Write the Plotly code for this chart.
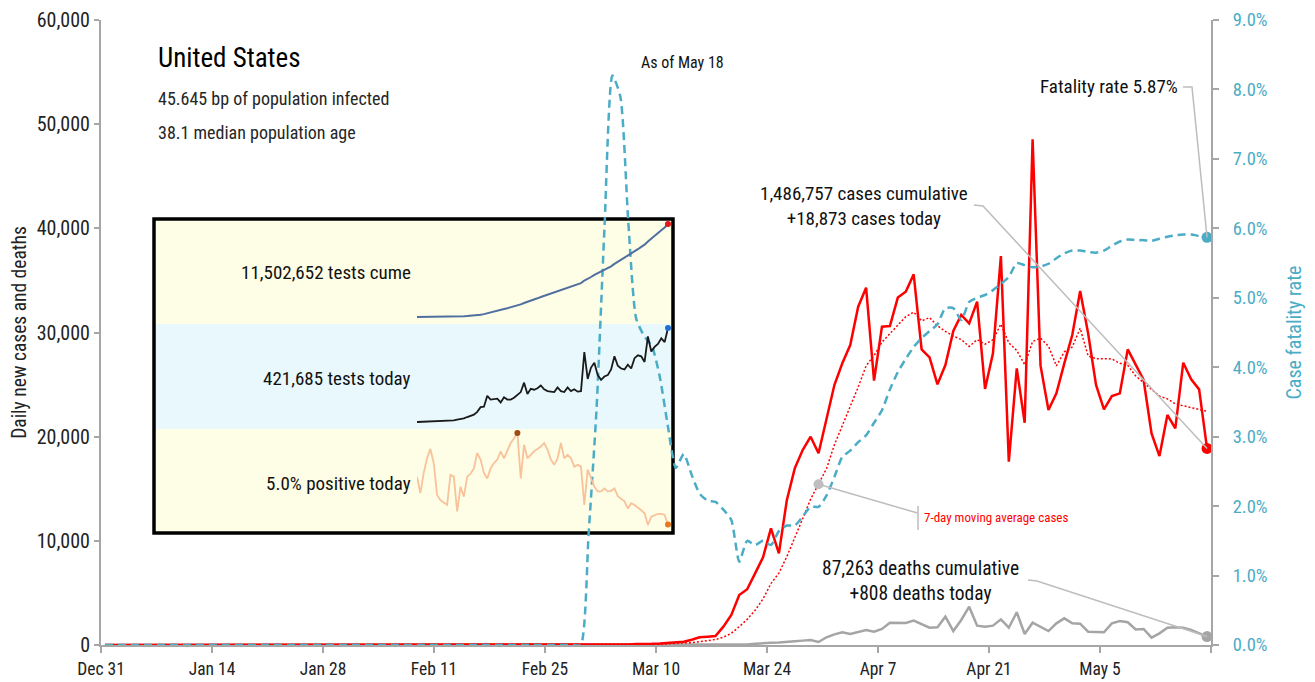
import pandas as pd
import plotly.graph_objects as go

# ---------------- data ----------------
start_date = "2019-12-31"
end_date = "2020-05-18"

new_cases = [
    0, 0, 0, 0, 0, 0, 0, 0, 0, 0,
    0, 0, 0, 0, 0, 0, 0, 0, 0, 0,
    0, 1, 0, 0, 1, 0, 3, 0, 0, 0,
    1, 1, 1, 3, 0, 1, 0, 0, 0, 0,
    0, 1, 0, 0, 0, 0, 0, 1, 0, 0,
    0, 0, 0, 0, 1, 6, 1, 3, 2, 5,
    8, 15, 25, 30, 45, 60, 55, 90, 80, 110,
    150, 200, 260, 320, 500, 740, 800, 860, 1760, 2880,
    4800, 5350, 6880, 8420, 11200, 8800, 13900, 16960, 18720, 20000,
    18400, 21600, 24960, 27040, 28800, 32480, 34300, 25380, 30560, 30620,
    33350, 33920, 35580, 28380, 27620, 25020, 26880, 30140, 31680, 30880,
    32960, 24580, 28000, 37340, 17600, 26560, 21340, 48540, 26820, 22560,
    24160, 27040, 29760, 33980, 29920, 24960, 22620, 23900, 24160, 28380,
    26880, 25440, 20320, 18140, 22080, 20800, 27100, 25500, 24540, 18873,
]

new_deaths = [
    0, 0, 0, 0, 0, 0, 0, 0, 0, 0,
    0, 0, 0, 0, 0, 0, 0, 0, 0, 0,
    0, 0, 0, 0, 0, 0, 0, 0, 0, 0,
    0, 0, 0, 0, 0, 0, 0, 0, 0, 0,
    0, 0, 0, 0, 0, 0, 0, 0, 0, 0,
    0, 0, 0, 0, 0, 0, 0, 0, 0, 0,
    1, 1, 4, 1, 2, 2, 3, 3, 4, 4,
    6, 8, 8, 10, 12, 15, 20, 25, 30, 40,
    50, 60, 110, 130, 220, 240, 270, 350, 420, 480,
    290, 740, 1020, 1220, 1060, 1220, 1440, 1280, 1540, 2140,
    2140, 2110, 2340, 2020, 1660, 1700, 2720, 1340, 2400, 3680,
    1860, 1760, 1860, 2460, 1660, 3140, 1060, 2140, 1760, 1340,
    2080, 2560, 2080, 2050, 1280, 1220, 1220, 2080, 2300, 2180,
    1500, 1540, 700, 1120, 1660, 1700, 1660, 1440, 1150, 808,
]

cfr_pct = [
    0, 0, 0, 0, 0, 0, 0, 0, 0, 0,
    0, 0, 0, 0, 0, 0, 0, 0, 0, 0,
    0, 0, 0, 0, 0, 0, 0, 0, 0, 0,
    0, 0, 0, 0, 0, 0, 0, 0, 0, 0,
    0, 0, 0, 0, 0, 0, 0, 0, 0, 0,
    0, 0, 0, 0, 0, 0, 0, 0, 0, 0,
    0.0, 1.6, 3.4, 6.0, 8.2, 7.9, 6.1, 4.7, 4.45, 4.3,
    3.85, 3.15, 2.55, 2.75, 2.45, 2.18, 2.08, 2.06, 1.95, 1.8,
    1.2, 1.5, 1.44, 1.5, 1.44, 1.64, 1.72, 1.72, 1.85, 1.99,
    1.99, 2.15, 2.42, 2.71, 2.80, 2.92, 3.02, 3.2, 3.38, 3.68,
    3.93, 4.12, 4.29, 4.42, 4.52, 4.62, 4.85, 4.85, 4.68, 4.94,
    5.0, 5.04, 5.11, 5.2, 5.3, 5.5, 5.47, 5.44, 5.45, 5.49,
    5.57, 5.64, 5.68, 5.68, 5.66, 5.65, 5.68, 5.75, 5.81, 5.84,
    5.83, 5.83, 5.82, 5.85, 5.88, 5.9, 5.91, 5.91, 5.89, 5.87,
]

tests_start = "2020-03-04"
tests_today_k = [
    1.0, 1.5, 1.8, 2.2, 2.6, 3.0, 3.5, 4.2, 5.1, 5.9,
    7.6, 8.4, 11.8, 12.7, 16.9, 23.2, 27.4, 33.7, 46.4, 67.5,
    69.6, 118.1, 101.2, 103.3, 105.4, 88.6, 111.7, 101.2, 101.2, 109.6,
    122.3, 134.9, 177.1, 126.5, 149.7, 145.5, 151.8, 164.5, 147.6, 139.2,
    137.0, 134.9, 156.0, 139.2, 134.9, 156.0, 139.2, 147.6, 137.0, 139.2,
    314.2, 194.0, 244.6, 265.7, 210.8, 189.8, 204.5, 210.8, 236.1, 295.2,
    253.0, 240.4, 236.1, 257.2, 240.4, 286.7, 299.4, 295.2, 269.9, 383.7,
    316.3, 337.3, 350.0, 375.3, 358.4, 421.685,
]

positive_pct = [
    13.1, 10.3, 13.7, 16.2, 17.8, 15.4, 10.0, 9.1, 8.7, 8.3,
    13.4, 13.1, 7.2, 11.4, 9.7, 13.1, 13.6, 14.5, 17.1, 16.0,
    13.7, 12.8, 14.5, 15.4, 16.0, 17.4, 16.2, 17.4, 18.8, 19.6,
    20.5, 12.8, 18.5, 16.2, 16.8, 17.4, 17.8, 18.2, 18.8, 17.7,
    16.0, 15.1, 16.2, 18.8, 16.2, 16.8, 16.2, 14.8, 15.1, 14.8,
    8.3, 14.3, 12.8, 11.4, 10.6, 10.6, 11.1, 10.6, 10.7, 11.1,
    9.8, 9.4, 8.9, 7.7, 8.6, 8.3, 7.9, 7.4, 6.9, 4.9,
    6.3, 6.6, 6.8, 6.8, 6.6, 5.0,
]

x_tick_dates = ["2019-12-31", "2020-01-14", "2020-01-28", "2020-02-11", "2020-02-25",
                "2020-03-10", "2020-03-24", "2020-04-07", "2020-04-21", "2020-05-05", "2020-05-19"]
x_tick_text = ["Dec 31", "Jan 14", "Jan 28", "Feb 11", "Feb 25",
               "Mar 10", "Mar 24", "Apr 7", "Apr 21", "May 5", ""]

# ---------------- derived ----------------
dates = pd.date_range(start_date, end_date, freq="D")
xs = dates + pd.Timedelta(hours=12)          # points sit mid-day (between tick marks)
cases_s = pd.Series(new_cases, index=xs)
ma7 = cases_s.rolling(7, min_periods=1).mean()
cfr = [v / 100 for v in cfr_pct]

tdates = pd.date_range(tests_start, end_date, freq="D")
tests_today = [v * 1000 for v in tests_today_k]
tests_cume = list(pd.Series(tests_today).cumsum())

# ---------------- geometry helpers ----------------
L, R, T, B = 101, 1211, 20, 645
W, H = R - L, B - T
X0, X1 = pd.Timestamp("2019-12-31"), pd.Timestamp("2020-05-19")
Y_MAX = 60000
Y2_MAX = 0.09


def pxx(p):
    return (p - L) / W


def pxy(p):
    return (B - p) / H


def dx(t):
    return (pd.Timestamp(t) - X0) / (X1 - X0)


FONT = "Roboto Condensed, Liberation Sans Narrow, Roboto, Liberation Sans, sans-serif"
GRAY_AX = "#A6A6A6"
BLUE = "#4BACC6"
RED = "#FF0000"
DGRAY = "#A5A5A5"

fig = go.Figure()

# main traces
fig.add_trace(go.Scatter(x=xs, y=new_deaths, mode="lines",
                         line=dict(color=DGRAY, width=2.5), hoverinfo="skip"))
fig.add_trace(go.Scatter(x=xs, y=new_cases, mode="lines",
                         line=dict(color=RED, width=2.5), hoverinfo="skip"))
fig.add_trace(go.Scatter(x=xs, y=ma7, mode="lines",
                         line=dict(color=RED, width=1.5, dash="2px,2px"), hoverinfo="skip"))
fig.add_trace(go.Scatter(x=xs, y=cfr, mode="lines", yaxis="y2",
                         line=dict(color=BLUE, width=2.5, dash="8px,5px", shape="spline", smoothing=0.6),
                         hoverinfo="skip"))

# end / highlight markers
fig.add_trace(go.Scatter(x=[xs[90]], y=[ma7.iloc[90]], mode="markers",
                         marker=dict(color="#BFBFBF", size=10), cliponaxis=False))
fig.add_trace(go.Scatter(x=[xs[-1]], y=[new_deaths[-1]], mode="markers",
                         marker=dict(color=DGRAY, size=11), cliponaxis=False))
fig.add_trace(go.Scatter(x=[xs[-1]], y=[new_cases[-1]], mode="markers",
                         marker=dict(color=RED, size=11), cliponaxis=False))
fig.add_trace(go.Scatter(x=[xs[-1]], y=[cfr[-1]], mode="markers", yaxis="y2",
                         marker=dict(color=BLUE, size=11), cliponaxis=False))

# ---------------- inset sparklines ----------------
SX0, SX1 = 417, 668


def spark_range(vals, top_px, bot_px, pad=3):
    lo, hi = min(vals), max(vals)
    span = hi - lo
    per_px = span / (bot_px - top_px)
    return ([lo - pad * per_px, hi + pad * per_px], [pxy(bot_px + pad), pxy(top_px - pad)])


r3, d3 = spark_range(tests_cume, 224, 317)
r4, d4 = spark_range(tests_today, 328, 422)
r5, d5 = spark_range(positive_pct, 433, 525)

fig.add_trace(go.Scatter(x=tdates, y=tests_cume, mode="lines", xaxis="x3", yaxis="y3",
                         line=dict(color="#4F6FA0", width=2), hoverinfo="skip"))
fig.add_trace(go.Scatter(x=[tdates[-1]], y=[tests_cume[-1]], mode="markers", xaxis="x3", yaxis="y3",
                         marker=dict(color="#E8141B", size=6), cliponaxis=False))
fig.add_trace(go.Scatter(x=tdates, y=tests_today, mode="lines", xaxis="x4", yaxis="y4",
                         line=dict(color="#1A1A1A", width=1.8), hoverinfo="skip"))
fig.add_trace(go.Scatter(x=[tdates[-1]], y=[tests_today[-1]], mode="markers", xaxis="x4", yaxis="y4",
                         marker=dict(color="#1F6FD0", size=6), cliponaxis=False))
fig.add_trace(go.Scatter(x=tdates, y=positive_pct, mode="lines", xaxis="x5", yaxis="y5",
                         line=dict(color="#F8C29A", width=1.8), hoverinfo="skip"))
imax = positive_pct.index(max(positive_pct))
fig.add_trace(go.Scatter(x=[tdates[imax]], y=[positive_pct[imax]], mode="markers", xaxis="x5", yaxis="y5",
                         marker=dict(color="#A04A15", size=6), cliponaxis=False))
fig.add_trace(go.Scatter(x=[tdates[-1]], y=[positive_pct[-1]], mode="markers", xaxis="x5", yaxis="y5",
                         marker=dict(color="#E8771E", size=6), cliponaxis=False))

spark_x = dict(domain=[pxx(SX0), pxx(SX1)], range=[tdates[0], tdates[-1]], visible=False, fixedrange=True)

# ---------------- shapes ----------------
shapes = []
BX0, BX1, BY0, BY1 = 154, 673, 219, 533
band1, band2 = 324, 429
shapes.append(dict(type="rect", xref="paper", yref="paper", x0=pxx(BX0), x1=pxx(BX1),
                   y0=pxy(band1), y1=pxy(BY0), fillcolor="#FEFDE6", line=dict(width=0), layer="below"))
shapes.append(dict(type="rect", xref="paper", yref="paper", x0=pxx(BX0), x1=pxx(BX1),
                   y0=pxy(band2), y1=pxy(band1), fillcolor="#E9F8FC", line=dict(width=0), layer="below"))
shapes.append(dict(type="rect", xref="paper", yref="paper", x0=pxx(BX0), x1=pxx(BX1),
                   y0=pxy(BY1), y1=pxy(band2), fillcolor="#FEFDE6", line=dict(width=0), layer="below"))
shapes.append(dict(type="rect", xref="paper", yref="paper", x0=pxx(BX0), x1=pxx(BX1),
                   y0=pxy(BY1), y1=pxy(BY0), fillcolor="rgba(0,0,0,0)",
                   line=dict(color="#000000", width=3.5), layer="below"))


def leader(points):
    path = "M " + " L ".join(f"{x},{y}" for x, y in points)
    return dict(type="path", xref="paper", yref="paper", path=path,
                line=dict(color="#BDBDBD", width=1.5), layer="above")


end_x = dx(xs[-1])
shapes.append(leader([(pxx(1183), pxy(87)), (pxx(1192), pxy(87)), (end_x, cfr[-1] / Y2_MAX)]))
shapes.append(leader([(pxx(974), pxy(205)), (pxx(983), pxy(206)), (end_x, new_cases[-1] / Y_MAX)]))
shapes.append(leader([(pxx(1028), pxy(580)), (pxx(1037), pxy(581)), (end_x, new_deaths[-1] / Y_MAX)]))
shapes.append(leader([(dx(xs[90]), ma7.iloc[90] / Y_MAX), (pxx(917.5), pxy(513))]))
shapes.append(leader([(pxx(918), pxy(506)), (pxx(918), pxy(530))]))

# ---------------- annotations ----------------
annotations = []


def ann(text, x, y, size, color="#111111", xanchor="left", align="left"):
    annotations.append(dict(text=text, x=pxx(x), y=pxy(y), xref="paper", yref="paper",
                            xanchor=xanchor, yanchor="middle", align=align, showarrow=False,
                            font=dict(family=FONT, size=size, color=color)))


ann("United States", 156, 58, 27, "#000000")
ann("45.645 bp of population infected", 156, 98, 18, "#262626")
ann("38.1 median population age", 156, 132, 18, "#262626")
ann("As of May 18", 639, 62, 16, "#111111")
ann("Fatality rate 5.87%", 1180, 87, 19, "#111111", xanchor="right")
ann("1,486,757 cases cumulative<br>+18,873 cases today", 864, 206, 19, "#111111", "center", "center")
ann("7-day moving average cases", 922, 517, 13, RED)
ann("87,263 deaths cumulative<br>+808 deaths today", 920, 581, 19.5, "#111111", "center", "center")
ann("11,502,652 tests cume", 413, 272, 19, "#111111", xanchor="right")
ann("421,685 tests today", 413, 378, 19, "#111111", xanchor="right")
ann("5.0% positive today", 413, 484, 19, "#111111", xanchor="right")

fig.update_layout(
    template="none",
    width=1315, height=682,
    margin=dict(l=L, r=1315 - R, t=T, b=682 - B, pad=0),
    paper_bgcolor="white", plot_bgcolor="rgba(0,0,0,0)",
    showlegend=False,
    font=dict(family=FONT, size=16, color="#222222"),
    xaxis=dict(type="date", range=[X0, X1], tickvals=x_tick_dates, ticktext=x_tick_text,
               showline=True, linecolor=GRAY_AX, linewidth=2, ticks="outside", ticklen=6,
               tickcolor=GRAY_AX, tickwidth=1.5, showgrid=False, zeroline=False,
               ticklabelstandoff=1,
               tickfont=dict(size=17.5, color="#222222"), automargin=False, fixedrange=True),
    yaxis=dict(range=[0, Y_MAX], dtick=10000, tickformat=",", showline=True, linecolor=GRAY_AX,
               linewidth=2, ticks="outside", ticklen=5, tickcolor=GRAY_AX, tickwidth=1.5,
               showgrid=False, zeroline=False, tickfont=dict(size=20, color="#222222"),
               title=dict(text="Daily new cases and deaths", font=dict(size=19.5, color="#222222"), standoff=5),
               automargin=False, fixedrange=True),
    yaxis2=dict(range=[0, Y2_MAX], dtick=0.01, tickformat=".1%", overlaying="y", side="right",
                showline=True, linecolor=GRAY_AX, linewidth=2, ticks="outside", ticklen=6,
                tickcolor=GRAY_AX, tickwidth=1.5, showgrid=False, zeroline=False,
                ticklabelstandoff=10,
                tickfont=dict(size=18.5, color=BLUE),
                title=dict(text="Case fatality rate", font=dict(size=20, color=BLUE), standoff=20),
                automargin=False, fixedrange=True),
    xaxis3=dict(anchor="y3", **spark_x),
    yaxis3=dict(anchor="x3", domain=d3, range=r3, visible=False, fixedrange=True),
    xaxis4=dict(anchor="y4", **spark_x),
    yaxis4=dict(anchor="x4", domain=d4, range=r4, visible=False, fixedrange=True),
    xaxis5=dict(anchor="y5", **spark_x),
    yaxis5=dict(anchor="x5", domain=d5, range=r5, visible=False, fixedrange=True),
    shapes=shapes,
    annotations=annotations,
)

fig.write_html("out.html", config={"displayModeBar": False},
               post_script="document.body.style.margin='0';")
